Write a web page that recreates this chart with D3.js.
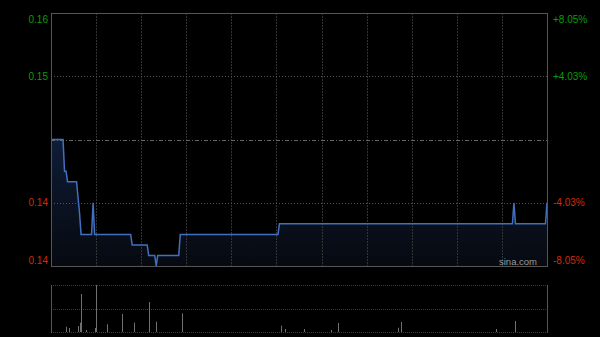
<!DOCTYPE html>
<html><head><meta charset="utf-8">
<script src="https://cdn.jsdelivr.net/npm/d3@7/dist/d3.min.js"></script>
<style>body{margin:0;background:#000;} svg{display:block}</style>
</head><body><svg id="c" width="600" height="337"></svg>
<script>
const prevClose = 0.149;
const priceTicks = [0.161, 0.155, 0.149, 0.143, 0.137];
const priceLabels = ["0.16", "0.15", "", "0.14", "0.14"];
const pctLabels = ["+8.05%", "+4.03%", "", "-4.03%", "-8.05%"];
const totalMinutes = 330;
const gridMinutes = [30, 60, 90, 120, 150, 180, 210, 240, 270, 300];
// price line keypoints (minute index from open, price)
const lineMinutes = [0, 8, 9, 10, 11, 17, 19, 20, 27, 28, 29, 53, 54, 64, 65, 69, 70, 71, 85, 86, 151, 152, 307, 308, 309, 329, 330];
const linePrices  = [0.149, 0.149, 0.146, 0.146, 0.145, 0.145, 0.142, 0.140, 0.140, 0.143, 0.140, 0.140, 0.139, 0.139, 0.138, 0.138, 0.137, 0.138, 0.138, 0.140, 0.140, 0.141, 0.141, 0.143, 0.141, 0.141, 0.143];
// volume bars (minute index, relative volume)
const volMinutes = [10, 12, 18, 19, 20, 23, 29, 30, 37, 47, 55, 65, 70, 87, 153, 156, 168, 186, 191, 231, 233, 296, 309];
const volValues  = [53, 40, 60, 93, 380, 20, 40, 470, 77, 180, 93, 300, 103, 187, 63, 30, 30, 20, 90, 43, 100, 30, 110];

const svg = d3.select("#c");
const L = 51, R = 547, T = 13, B = 266, VT = 285, VB = 332;
const x = d3.scaleLinear().domain([0, totalMinutes]).range([L, R]);
const y = d3.scaleLinear().domain([priceTicks[4], priceTicks[0]]).range([B, T]);
const yv = d3.scaleLinear().domain([0, d3.max(volValues)]).range([VB, VT]);

const defs = svg.append("defs");
const g = defs.append("linearGradient").attr("id", "ag").attr("x1", 0).attr("y1", 0).attr("x2", 0).attr("y2", 1);
g.append("stop").attr("offset", "0%").attr("stop-color", "#10203e").attr("stop-opacity", 0.9);
g.append("stop").attr("offset", "100%").attr("stop-color", "#0a0e18").attr("stop-opacity", 0.7);

const data = lineMinutes.map((m, i) => ({m, p: linePrices[i]}));

// area
svg.append("path").datum(data)
  .attr("d", d3.area().x(d => x(d.m)).y0(B).y1(d => y(d.p)))
  .attr("fill", "url(#ag)");

// vertical grid
svg.append("g").selectAll("line").data(gridMinutes).join("line")
  .attr("x1", d => Math.round(x(d)) + 0.5).attr("x2", d => Math.round(x(d)) + 0.5)
  .attr("y1", T).attr("y2", B)
  .attr("stroke", "#333").attr("stroke-dasharray", "2,1");

// horizontal grid
svg.append("g").selectAll("line").data([priceTicks[1], priceTicks[3]]).join("line")
  .attr("x1", L).attr("x2", R)
  .attr("y1", d => Math.round(y(d)) + 0.5).attr("y2", d => Math.round(y(d)) + 0.5)
  .attr("stroke", "#555").attr("stroke-dasharray", "1,2");
// prev close
svg.append("line")
  .attr("x1", L).attr("x2", R)
  .attr("y1", Math.round(y(prevClose)) + 0.5).attr("y2", Math.round(y(prevClose)) + 0.5)
  .attr("stroke", "#666").attr("stroke-dasharray", "4,2,1,2");

// price line
svg.append("path").datum(data)
  .attr("d", d3.line().x(d => x(d.m)).y(d => y(d.p)))
  .attr("fill", "none").attr("stroke", "#4270c0").attr("stroke-width", 1.5);

// main border
svg.append("rect").attr("x", L + 0.5).attr("y", T + 0.5).attr("width", R - L).attr("height", B - T)
  .attr("fill", "none").attr("stroke", "#555");

// labels
const lab = svg.append("g").attr("font-family", "Arial, 'Liberation Sans', sans-serif").attr("font-size", 10);
priceTicks.forEach((t, i) => {
  if (!priceLabels[i]) return;
  let yy = y(t);
  if (i === 0) yy += 6; if (i === 4) yy -= 6;
  const col = t > prevClose ? "#0a9e0a" : "#d42a0a";
  lab.append("text").attr("x", 48).attr("y", yy).attr("dy", "0.35em").attr("text-anchor", "end")
    .attr("fill", col).text(priceLabels[i]);
  lab.append("text").attr("x", 553).attr("y", yy).attr("dy", "0.35em").attr("text-anchor", "start")
    .attr("fill", col).text(pctLabels[i]);
});

// watermark
svg.append("text").attr("x", 537).attr("y", 262).attr("dy", "0.35em").attr("text-anchor", "end")
  .attr("font-family", "Arial, 'Liberation Sans', sans-serif").attr("font-size", 9.5)
  .attr("fill", "#9a9a9a").text("sina.com");

// volume grid
svg.append("g").selectAll("line").data([VT, (VT + VB) / 2, VB]).join("line")
  .attr("x1", L).attr("x2", R)
  .attr("y1", d => Math.round(d) + 0.5).attr("y2", d => Math.round(d) + 0.5)
  .attr("stroke", "#3c3c3c").attr("stroke-dasharray", "1,1");
svg.append("line").attr("x1", L + 0.5).attr("x2", L + 0.5).attr("y1", VT).attr("y2", VB + 1).attr("stroke", "#555");
svg.append("line").attr("x1", R + 0.5).attr("x2", R + 0.5).attr("y1", VT).attr("y2", VB + 1).attr("stroke", "#555");

// volume bars
svg.append("g").selectAll("rect").data(volMinutes.map((m, i) => ({m, v: volValues[i]}))).join("rect")
  .attr("x", d => Math.round(x(d.m))).attr("width", 1)
  .attr("y", d => yv(d.v)).attr("height", d => VB - yv(d.v))
  .attr("fill", "#707070");
</script></body></html>
